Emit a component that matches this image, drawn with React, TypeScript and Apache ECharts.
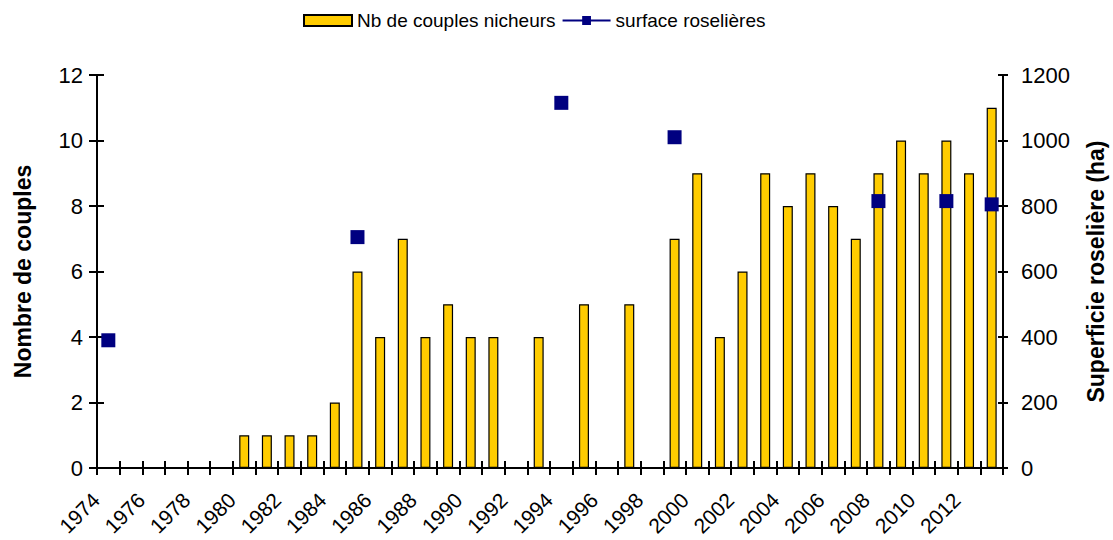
import React, { useEffect, useRef } from "react";
import * as echarts from "echarts";

const years: string[] = [];
for (let y = 1974; y <= 2013; y++) years.push(String(y));

const couples: (number | null)[] = [
  0, 0, 0, 0, 0, 0, 1, 1, 1, 1,
  2, 6, 4, 7, 4, 5, 4, 4, 0, 4,
  0, 5, 0, 5, 0, 7, 9, 4, 6, 9,
  8, 9, 8, 7, 9, 10, 9, 10, 9, 11,
];

const surface: (number | null)[] = [
  390, null, null, null, null, null, null, null, null, null,
  null, 705, null, null, null, null, null, null, null, null,
  1115, null, null, null, null, 1010, null, null, null, null,
  null, null, null, null, 815, null, null, 815, null, 805,
];

const FONT = "Liberation Sans, Arial, sans-serif";

export default function App() {
  const ref = useRef<HTMLDivElement>(null);
  useEffect(() => {
    if (!ref.current) return;
    const chart = echarts.init(ref.current, undefined, { renderer: "svg" });
    const axisLine = { show: true, lineStyle: { color: "#000", width: 2 } };
    const tickStyle = { color: "#000", width: 2 };
    const fmt = (v: number) => String(v);
    chart.setOption({
      animation: false,
      backgroundColor: "#fff",
      textStyle: { fontFamily: FONT },
      legend: {
        top: 6,
        left: 298,
        itemWidth: 48,
        itemHeight: 11,
        itemGap: 6,
        textStyle: { fontFamily: FONT, fontSize: 19, color: "#000" },
        data: [
          { name: "Nb de couples nicheurs", icon: "rect" },
          { name: "surface roselières" },
        ],
      },
      grid: {
        left: 97,
        right: 110,
        top: 75,
        bottom: 72,
        containLabel: false,
        outerBoundsMode: "none",
      },
      xAxis: [
        {
          type: "category",
          data: years,
          boundaryGap: true,
          axisLine,
          axisTick: { show: true, interval: 0, length: 7, lineStyle: tickStyle },
          axisLabel: {
            interval: 1,
            rotate: 45,
            fontSize: 21,
            color: "#000",
            fontFamily: FONT,
            margin: 16,
            formatter: (v: string) => v + "\u00a0\u00a0\u00a0",
          },
        },
        {
          type: "category",
          data: years,
          position: "bottom",
          boundaryGap: true,
          axisLine: { show: false },
          axisTick: { show: true, inside: true, interval: 0, length: 7, lineStyle: tickStyle },
          axisLabel: { show: false },
        },
      ],
      yAxis: [
        {
          type: "value",
          min: 0,
          max: 12,
          interval: 2,
          position: "left",
          name: "Nombre de couples",
          nameLocation: "middle",
          nameGap: 63,
          nameTextStyle: { fontSize: 23, fontWeight: "bold", color: "#000", fontFamily: FONT },
          axisLine,
          axisTick: { show: true, length: 8, lineStyle: tickStyle },
          axisLabel: { fontSize: 22, color: "#000", fontFamily: FONT, margin: 14, formatter: fmt },
          splitLine: { show: false },
        },
        {
          type: "value",
          min: 0,
          max: 1200,
          interval: 200,
          position: "right",
          name: "Superficie roselière (ha)",
          nameLocation: "middle",
          nameGap: 81,
          nameTextStyle: { fontSize: 23, fontWeight: "bold", color: "#000", fontFamily: FONT },
          axisLine,
          axisTick: { show: true, length: 5, lineStyle: tickStyle },
          axisLabel: { fontSize: 22, color: "#000", fontFamily: FONT, margin: 18, formatter: fmt },
          splitLine: { show: false },
        },
        {
          type: "value",
          min: 0,
          max: 12,
          interval: 2,
          position: "left",
          axisLine: { show: false },
          axisTick: { show: true, inside: true, length: 7, lineStyle: tickStyle },
          axisLabel: { show: false },
          splitLine: { show: false },
        },
        {
          type: "value",
          min: 0,
          max: 1200,
          interval: 200,
          position: "right",
          axisLine: { show: false },
          axisTick: { show: true, inside: true, length: 5, lineStyle: tickStyle },
          axisLabel: { show: false },
          splitLine: { show: false },
        },
      ],
      series: [
        {
          name: "Nb de couples nicheurs",
          type: "bar",
          xAxisIndex: 0,
          yAxisIndex: 0,
          data: couples,
          barWidth: 10,
          itemStyle: { color: "#FFCC00", borderColor: "#000", borderWidth: 1.2 },
        },
        {
          name: "surface roselières",
          type: "line",
          xAxisIndex: 0,
          yAxisIndex: 1,
          data: surface,
          connectNulls: false,
          symbol: "rect",
          symbolSize: 14,
          showAllSymbol: true,
          itemStyle: { color: "#000080" },
          lineStyle: { color: "#000080", width: 2 },
          z: 5,
        },
      ],
    });
    return () => chart.dispose();
  }, []);
  return (
    <div
      ref={ref}
      style={{ position: "absolute", left: 0, top: 0, width: 1113, height: 540 }}
    />
  );
}
